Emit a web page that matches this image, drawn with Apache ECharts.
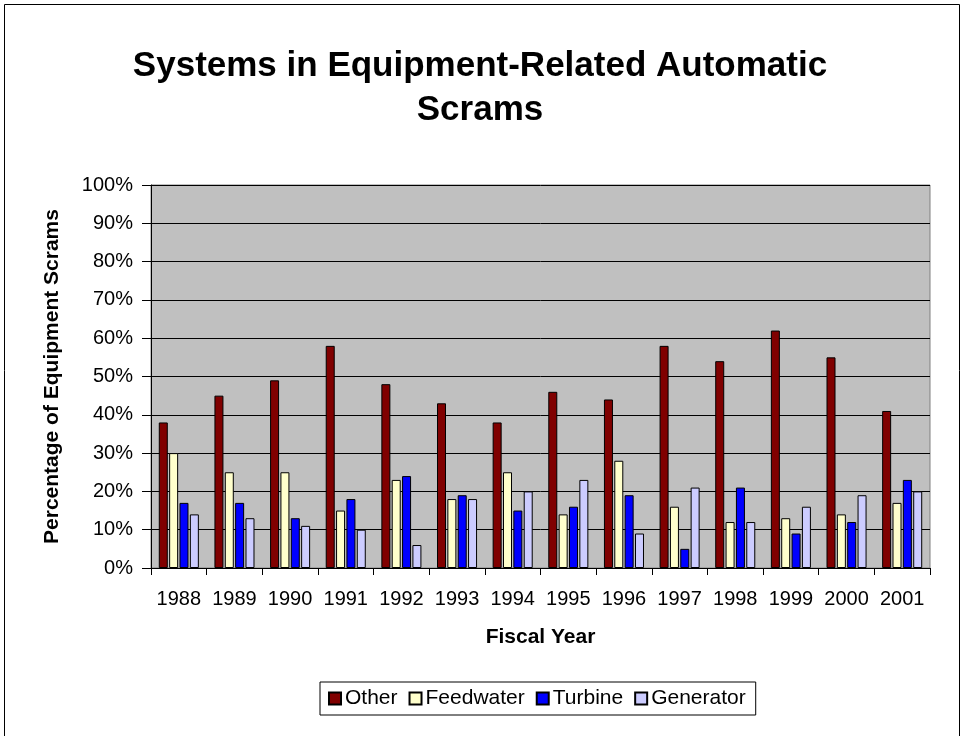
<!DOCTYPE html>
<html>
<head>
<meta charset="utf-8">
<script src="https://cdn.jsdelivr.net/npm/echarts@6/dist/echarts.min.js"></script>
<style>
  html, body { margin: 0; padding: 0; background: #fff; }
  #chart { width: 960px; height: 736px; }
</style>
</head>
<body>
<div id="chart"></div>
<script>
// Fiscal years and percentage of equipment-related scrams by system
const years = ["1988", "1989", "1990", "1991", "1992", "1993", "1994", "1995", "1996", "1997", "1998", "1999", "2000", "2001"];
const other     = [38, 45, 49, 58, 48, 43, 38, 46, 44, 58, 54, 62, 55, 41];
const feedwater = [30, 25, 25, 15, 23, 18, 25, 14, 28, 16, 12, 13, 14, 17];
const turbine   = [17, 17, 13, 18, 24, 19, 15, 16, 19,  5, 21,  9, 12, 23];
const generator = [14, 13, 11, 10,  6, 18, 20, 23,  9, 21, 12, 16, 19, 20];

const FONT = "Liberation Sans, Arial, sans-serif";
const chart = echarts.init(document.getElementById("chart"));

function barSeries(name, data, color) {
  return {
    name, type: "bar", data, barWidth: 9, barGap: "15%",
    itemStyle: { color, borderColor: "#000", borderWidth: 1 }
  };
}

chart.setOption({
  animation: false,
  textStyle: { fontFamily: FONT, color: "#000" },
  graphic: [{
    type: "rect", left: 2, top: 2,
    shape: { width: 955, height: 732 },
    style: { fill: "none", stroke: "#000", lineWidth: 1 }
  }],
  title: {
    text: "Systems in Equipment-Related Automatic\nScrams",
    left: "center", top: 39,
    textStyle: { fontFamily: FONT, fontSize: 35, fontWeight: "bold", color: "#000", lineHeight: 44 }
  },
  legend: {
    top: 682, left: 320,
    data: ["Other", "Feedwater", "Turbine", "Generator"],
    icon: "rect", itemWidth: 12, itemHeight: 12, itemGap: 11,
    borderColor: "#000", borderWidth: 1, padding: [6, 10, 6, 8],
    textStyle: { fontFamily: FONT, fontSize: 21, color: "#000", padding: [0, 0, 0, -1] }
  },
  grid: {
    left: 151, right: 30, top: 185, bottom: 168,
    show: true, backgroundColor: "#C0C0C0", borderColor: "#808080", borderWidth: 1
  },
  xAxis: {
    type: "category", data: years,
    name: "Fiscal Year", nameLocation: "middle", nameGap: 59,
    nameTextStyle: { fontFamily: FONT, fontSize: 21, fontWeight: "bold", color: "#000" },
    axisLine: { lineStyle: { color: "#000", width: 1 } },
    axisTick: { show: true, inside: false, length: 7, lineStyle: { color: "#000" } },
    axisLabel: { interval: 0, hideOverlap: false, fontFamily: FONT, fontSize: 20, color: "#000", margin: 21 }
  },
  yAxis: {
    type: "value", min: 0, max: 100, interval: 10,
    name: "Percentage of Equipment Scrams", nameLocation: "middle", nameGap: 88,
    nameTextStyle: { fontFamily: FONT, fontSize: 21, fontWeight: "bold", color: "#000" },
    axisLine: { show: true, lineStyle: { color: "#000", width: 1 } },
    axisTick: { show: true, length: 9, lineStyle: { color: "#000" } },
    axisLabel: { fontFamily: FONT, fontSize: 20, color: "#000", formatter: "{value}%", margin: 18 },
    splitLine: { lineStyle: { color: "#000", width: 1 } }
  },
  series: [
    barSeries("Other", other, "#800000"),
    barSeries("Feedwater", feedwater, "#FFFFCC"),
    barSeries("Turbine", turbine, "#0000FF"),
    barSeries("Generator", generator, "#CCCCFF")
  ]
});
</script>
</body>
</html>
